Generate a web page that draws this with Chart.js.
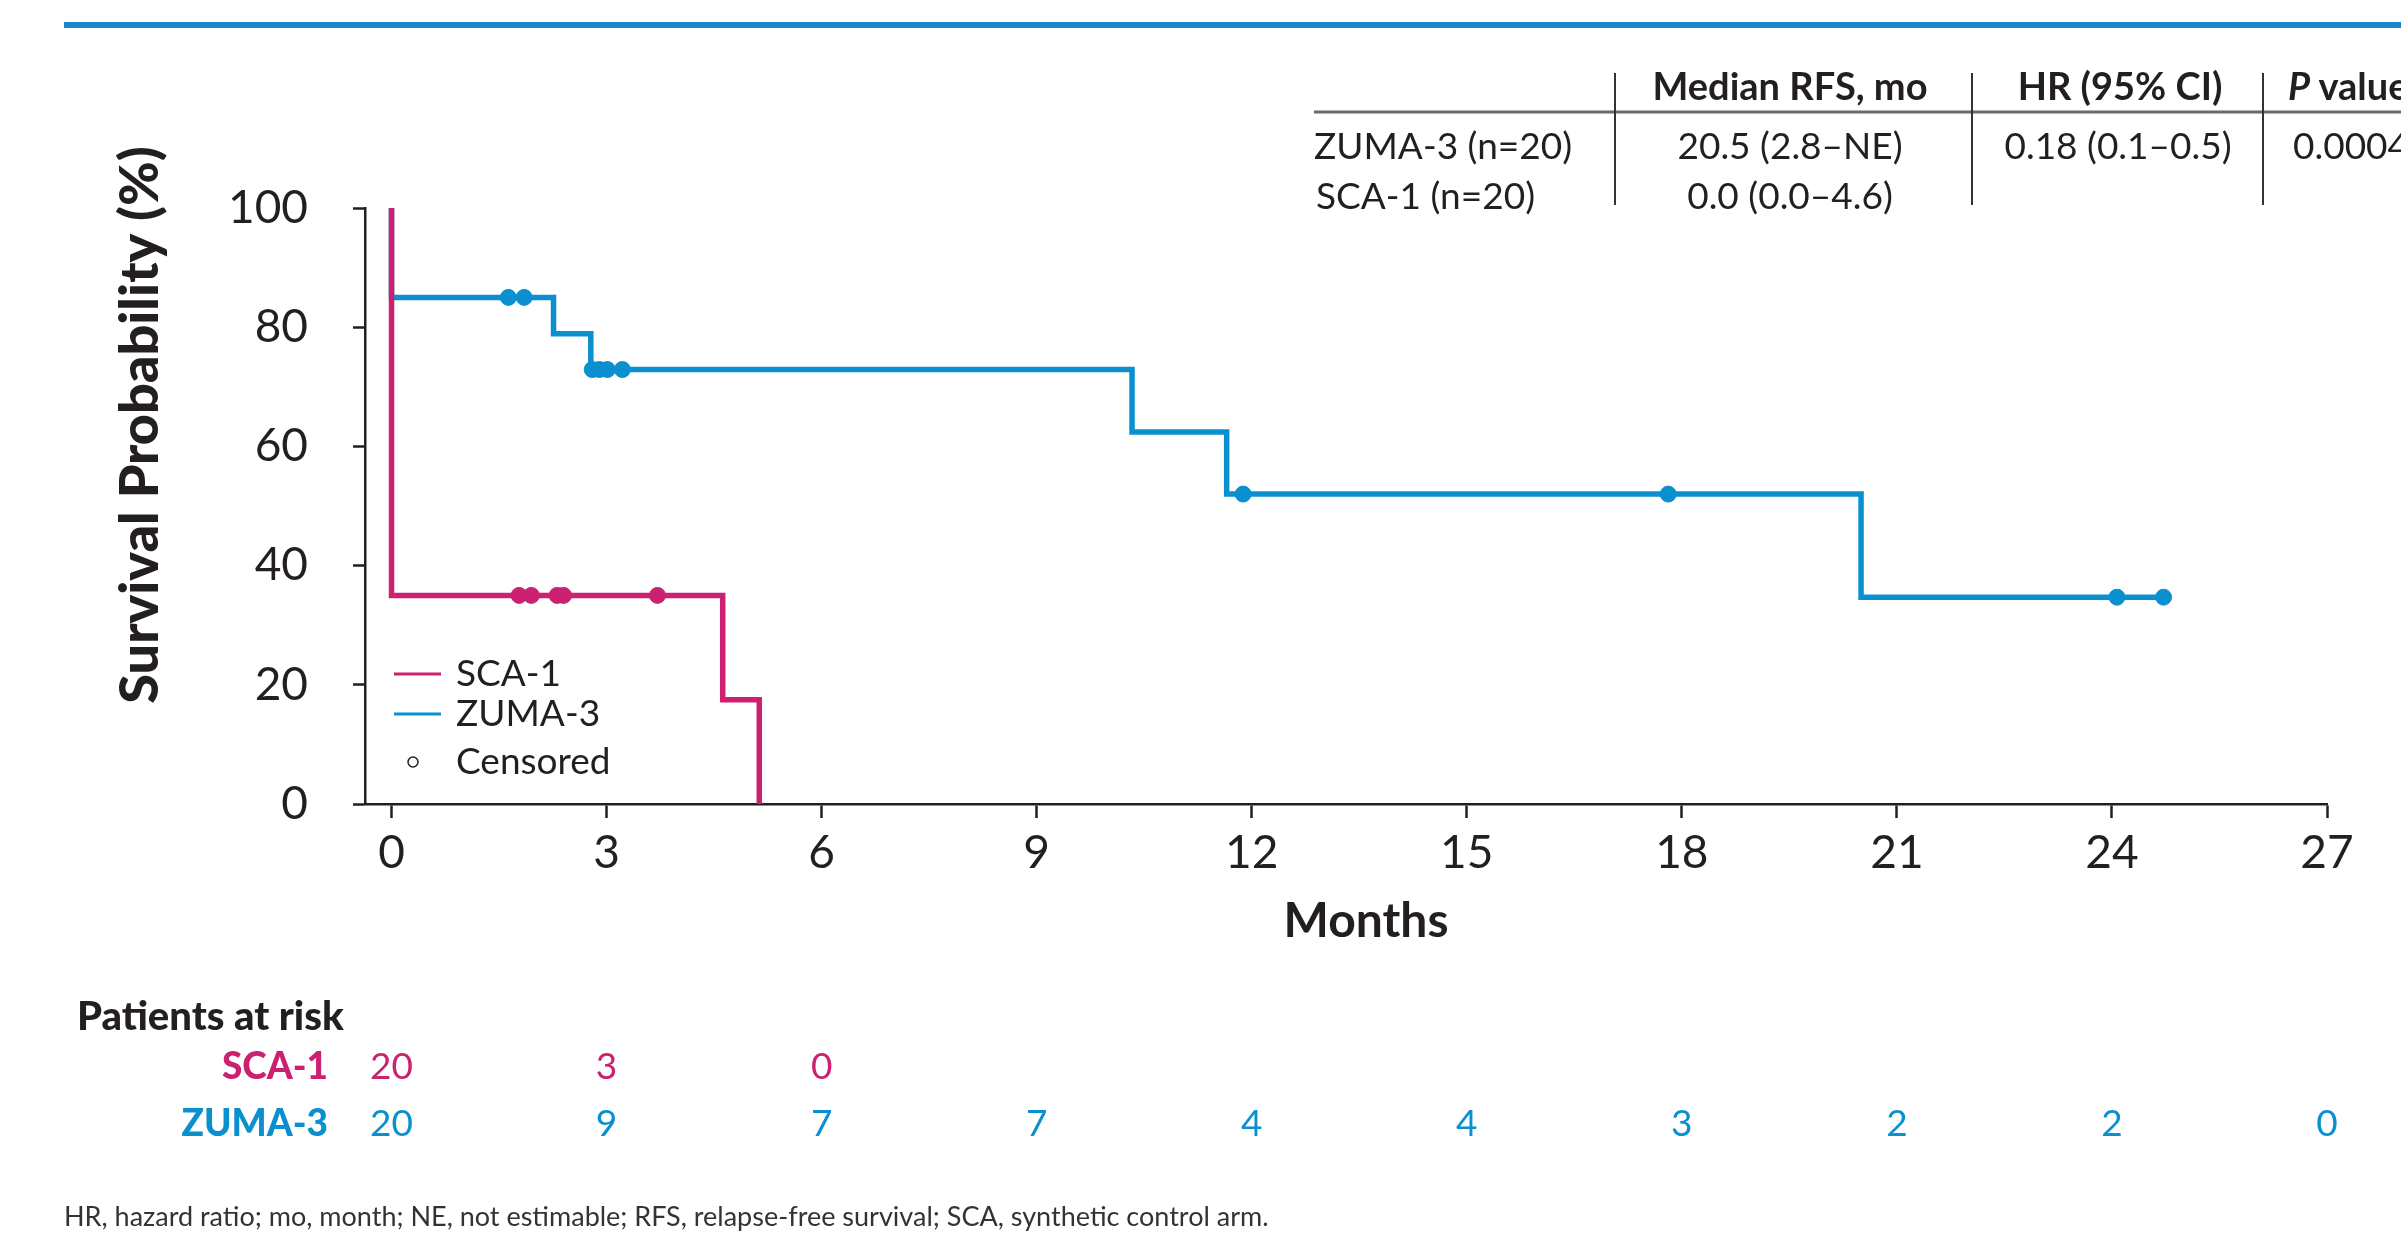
<!DOCTYPE html>
<html>
<head>
<meta charset="utf-8">
<script src="https://cdn.jsdelivr.net/npm/chart.js@4.4.1/dist/chart.umd.min.js"></script>
<style>
  html, body { margin: 0; padding: 0; background: #fff; }
  canvas { display: block; }
</style>
</head>
<body>
<canvas id="km" width="2401" height="1240"></canvas>
<script>
// KM steps: time in months, survival in %
const scaTimes = [0, 0, 4.62, 5.13];
const scaSurv = [100, 35, 17.5, 0];
const zumaTimes = [0, 0, 2.26, 2.78, 10.33, 11.65, 20.5, 24.72];
const zumaSurv = [100, 85, 78.9, 72.9, 62.4, 52.0, 34.7, 34.7];

// censored marks
const scaCensorTimes = [1.78, 1.95, 2.31, 2.40, 3.71];
const scaCensorSurv = [35, 35, 35, 35, 35];
const zumaCensorTimes = [1.63, 1.85, 2.80, 2.90, 3.01, 3.22, 11.88, 17.81, 24.07, 24.72];
const zumaCensorSurv = [85, 85, 72.9, 72.9, 72.9, 72.9, 52, 52, 34.7, 34.7];

// x ticks and patients at risk
const monthTicks = [0, 3, 6, 9, 12, 15, 18, 21, 24, 27];
const scaAtRisk = [20, 3, 0];
const zumaAtRisk = [20, 9, 7, 7, 4, 4, 3, 2, 2, 0];

// summary table
const tableHeaders = ['Median RFS, mo', 'HR (95% CI)', 'value'];
const tableRowLabels = ['ZUMA-3 (n=20)', 'SCA-1 (n=20)'];
const tableMedians = ['20.5 (2.8\u2013NE)', '0.0 (0.0\u20134.6)'];
const tableHR = '0.18 (0.1\u20130.5)';
const tableP = '0.0004';

const footnote = 'HR, hazard ratio; mo, month; NE, not estimable; RFS, relapse-free survival; SCA, synthetic control arm.';

const PINK = '#cb2170';
const BLUE = '#0b90cf';
const INK = '#231f20';
const FONT = 'Lato, "Open Sans", sans-serif';

const toPoints = (xs, ys) => xs.map((x, i) => ({ x: x, y: ys[i] }));

const overlay = {
  id: 'overlay',
  afterDraw(chart) {
    const { ctx } = chart;
    const xs = chart.scales.x;
    ctx.save();

    // blue rule at the top
    ctx.fillStyle = '#1e86c8';
    ctx.fillRect(64, 22, 2401 - 64, 6);

    // table lines
    ctx.strokeStyle = '#6b6b6b';
    ctx.lineWidth = 3;
    ctx.beginPath();
    ctx.moveTo(1314, 112);
    ctx.lineTo(2401, 112);
    ctx.stroke();
    ctx.strokeStyle = '#333';
    ctx.lineWidth = 2;
    [1615, 1972, 2263].forEach(sx => {
      ctx.beginPath();
      ctx.moveTo(sx, 73);
      ctx.lineTo(sx, 205);
      ctx.stroke();
    });

    // table text
    ctx.fillStyle = INK;
    ctx.textBaseline = 'middle';
    ctx.textAlign = 'center';
    ctx.font = 'bold 38px ' + FONT;
    ctx.fillText(tableHeaders[0], 1790, 88);
    ctx.fillText(tableHeaders[1], 2120, 88);
    ctx.textAlign = 'left';
    ctx.font = 'italic bold 38px ' + FONT;
    ctx.fillText('P', 2288, 88);
    const pw = ctx.measureText('P ').width;
    ctx.font = 'bold 38px ' + FONT;
    ctx.fillText(tableHeaders[2], 2288 + pw, 88);

    ctx.font = '37px ' + FONT;
    ctx.fillText(tableRowLabels[0], 1314, 147);
    ctx.fillText(tableRowLabels[1], 1316, 197);
    ctx.fillText(tableP, 2293, 147);
    ctx.textAlign = 'center';
    ctx.fillText(tableMedians[0], 1790, 147);
    ctx.fillText(tableMedians[1], 1790, 197);
    ctx.fillText(tableHR, 2118, 147);

    // axis titles
    ctx.font = '900 54px ' + FONT;
    ctx.save();
    ctx.translate(141, 425);
    ctx.rotate(-Math.PI / 2);
    ctx.fillText('Survival Probability (%)', 0, 0);
    ctx.restore();
    ctx.font = 'bold 48px ' + FONT;
    ctx.fillText('Months', 1366, 922);

    // legend
    ctx.lineWidth = 3;
    ctx.strokeStyle = PINK;
    ctx.beginPath(); ctx.moveTo(394, 674); ctx.lineTo(441, 674); ctx.stroke();
    ctx.strokeStyle = BLUE;
    ctx.beginPath(); ctx.moveTo(394, 714); ctx.lineTo(441, 714); ctx.stroke();
    ctx.strokeStyle = INK;
    ctx.lineWidth = 1.5;
    ctx.beginPath(); ctx.arc(413, 762, 5, 0, Math.PI * 2); ctx.stroke();
    ctx.textAlign = 'left';
    ctx.font = '37px ' + FONT;
    ctx.fillText('SCA-1', 456, 674);
    ctx.fillText('ZUMA-3', 456, 714);
    ctx.fillText('Censored', 456, 762);

    // patients at risk
    ctx.font = '900 40px ' + FONT;
    ctx.fillText('Patients at risk', 77, 1017);
    ctx.textAlign = 'right';
    ctx.font = '900 37px ' + FONT;
    ctx.fillStyle = PINK;
    ctx.fillText('SCA-1', 328, 1067);
    ctx.fillStyle = BLUE;
    ctx.fillText('ZUMA-3', 328, 1124);
    ctx.textAlign = 'center';
    ctx.font = '37px ' + FONT;
    ctx.fillStyle = PINK;
    scaAtRisk.forEach((n, i) => ctx.fillText(String(n), xs.getPixelForValue(monthTicks[i]), 1067));
    ctx.fillStyle = BLUE;
    zumaAtRisk.forEach((n, i) => ctx.fillText(String(n), xs.getPixelForValue(monthTicks[i]), 1124));

    // footnote
    ctx.fillStyle = '#333';
    ctx.textAlign = 'left';
    ctx.font = '27px ' + FONT;
    ctx.fillText(footnote, 64, 1217);

    ctx.restore();
  }
};

new Chart(document.getElementById('km'), {
  type: 'line',
  data: {
    datasets: [
      { label: 'SCA-1 censored', type: 'scatter', data: toPoints(scaCensorTimes, scaCensorSurv),
        backgroundColor: PINK, borderColor: PINK, pointRadius: 8, order: 0 },
      { label: 'ZUMA-3 censored', type: 'scatter', data: toPoints(zumaCensorTimes, zumaCensorSurv),
        backgroundColor: BLUE, borderColor: BLUE, pointRadius: 8, order: 0 },
      { label: 'SCA-1', data: toPoints(scaTimes, scaSurv), borderColor: PINK, borderWidth: 5.5,
        stepped: 'before', pointRadius: 0, fill: false, order: 1 },
      { label: 'ZUMA-3', data: toPoints(zumaTimes, zumaSurv), borderColor: BLUE, borderWidth: 5.5,
        stepped: 'before', pointRadius: 0, fill: false, order: 2 }
    ]
  },
  options: {
    responsive: false,
    animation: false,
    devicePixelRatio: 1,
    layout: { padding: { left: 0, top: 208, right: 74, bottom: 336 } },
    plugins: { legend: { display: false }, tooltip: { enabled: false } },
    scales: {
      x: {
        type: 'linear', min: -0.37, max: 27,
        afterBuildTicks: s => { s.ticks = monthTicks.map(v => ({ value: v })); },
        afterFit: s => { s.height = 100; },
        grid: { drawOnChartArea: false, drawTicks: true, tickLength: 14, tickWidth: 2.5, tickColor: INK },
        border: { color: INK, width: 2.5 },
        ticks: { font: { family: FONT, size: 46 }, color: INK, padding: 8, maxRotation: 0, autoSkip: false }
      },
      y: {
        min: 0, max: 100,
        afterFit: s => { s.width = 365; },
        grid: { drawOnChartArea: false, drawTicks: true, tickLength: 12, tickWidth: 2.5, tickColor: INK },
        border: { color: INK, width: 2.5 },
        ticks: { stepSize: 20, font: { family: FONT, size: 46 }, color: INK, padding: 45 }
      }
    }
  },
  plugins: [overlay]
});
</script>
</body>
</html>
